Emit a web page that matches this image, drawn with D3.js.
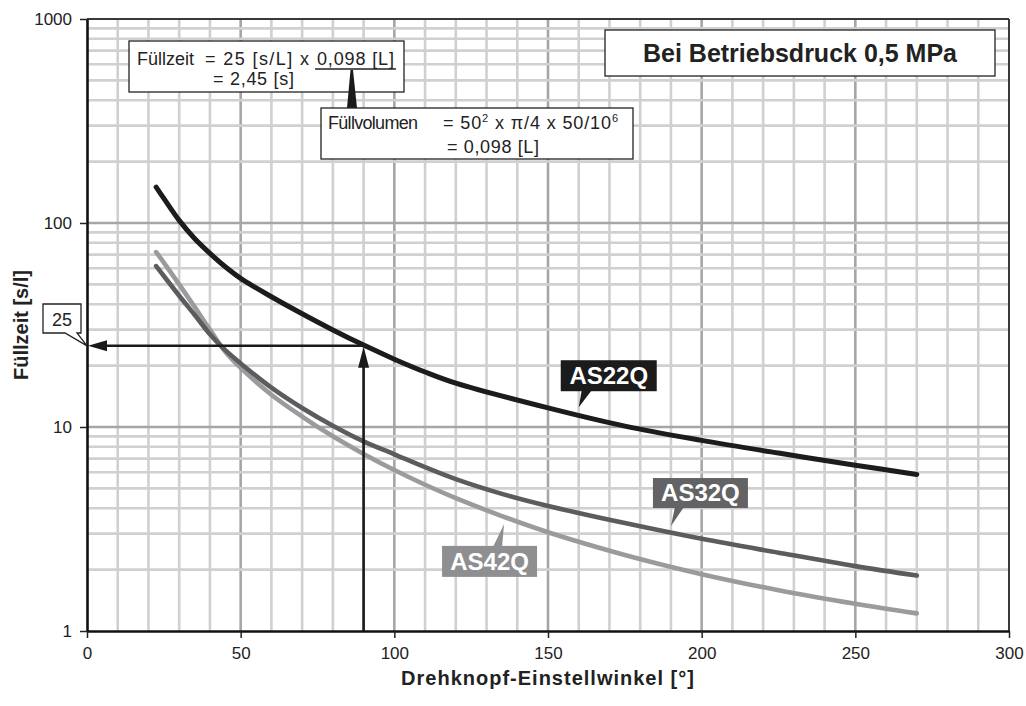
<!DOCTYPE html>
<html>
<head>
<meta charset="utf-8">
<script src="https://cdn.jsdelivr.net/npm/d3@7"></script>
<style>
  html, body { margin: 0; padding: 0; background: #fff; }
  svg { display: block; font-family: "Liberation Sans", Arial, Helvetica, sans-serif; }
</style>
</head>
<body>
<svg id="chart" width="1026" height="706"></svg>
<script>
// ---------- data ----------
const seriesNames = ["AS22Q", "AS32Q", "AS42Q"];
const as22qX = [22.5, 25, 30, 35, 40, 45, 50, 60, 70, 80, 90, 100, 110, 120, 150, 175, 200, 225, 250, 270];
const as22qY = [150, 132, 103, 84, 71, 61, 53.5, 43.5, 35.9, 29.9, 25.2, 21.5, 18.6, 16.4, 12.4, 10.1, 8.6, 7.45, 6.5, 5.85];
const as32qX = [22.5, 25, 30, 35, 40, 45, 50, 60, 70, 80, 90, 100, 110, 120, 135, 150, 175, 200, 225, 250, 270];
const as32qY = [61.5, 55, 44, 35.5, 28.5, 23.8, 20.5, 15.6, 12.4, 10.15, 8.5, 7.35, 6.35, 5.55, 4.7, 4.1, 3.38, 2.83, 2.42, 2.08, 1.87];
const as42qX = [22.5, 25, 30, 35, 40, 45, 50, 60, 70, 80, 90, 100, 110, 120, 135, 150, 175, 200, 225, 250, 270];
const as42qY = [72, 64, 50, 38.8, 30, 23.4, 19.5, 14.4, 11.25, 9.0, 7.38, 6.15, 5.21, 4.48, 3.66, 3.05, 2.36, 1.9, 1.585, 1.36, 1.22];
const xTicks = [0, 50, 100, 150, 200, 250, 300];
const yTicks = [1, 10, 100, 1000];
const labelAnchors = [[160, 12.5], [190, 3.27], [135.7, 3.35]]; // where each label pointer ends
const exampleAngle = 90, exampleTime = 25;

// ---------- setup ----------
const svg = d3.select("#chart");
const x = d3.scaleLinear().domain([0, 300]).range([87, 1009]);
const y = d3.scaleLog().domain([1, 1000]).range([631, 19]);
const X0 = x(0), X1 = x(300), Y0 = y(1), Y1 = y(1000);

svg.append("rect").attr("width", 1026).attr("height", 706).attr("fill", "#fff");

// ---------- grid ----------
const grid = svg.append("g");
const vLines = d3.range(10, 300, 10);
grid.selectAll("line.v").data(vLines).join("line")
  .attr("x1", d => x(d)).attr("x2", d => x(d))
  .attr("y1", Y1).attr("y2", Y0)
  .attr("stroke", d => d % 50 === 0 ? "#a6a6aa" : "#d0d0d2")
  .attr("stroke-width", 2.6);
const hLines = [];
[1, 10, 100].forEach(dec => { for (let k = 2; k <= 9; k++) hLines.push({v: dec * k, major: false}); });
hLines.push({v: 10, major: true}, {v: 100, major: true});
grid.selectAll("line.h").data(hLines).join("line")
  .attr("x1", X0).attr("x2", X1)
  .attr("y1", d => y(d.v)).attr("y2", d => y(d.v))
  .attr("stroke", d => d.major ? "#a6a6aa" : "#d0d0d2")
  .attr("stroke-width", 2.6);

// ---------- curves ----------
const series = [
  {name: seriesNames[0], xs: as22qX, ys: as22qY, color: "#1c1c1c", w: 5},
  {name: seriesNames[1], xs: as32qX, ys: as32qY, color: "#5c5c5e", w: 4.6},
  {name: seriesNames[2], xs: as42qX, ys: as42qY, color: "#9b9b9d", w: 4.6}
];
const line = d3.line().x(d => x(d[0])).y(d => y(d[1])).curve(d3.curveCatmullRom.alpha(0.5));
[2, 1, 0].forEach(i => {
  const s = series[i];
  svg.append("path")
    .attr("d", line(s.xs.map((v, j) => [v, s.ys[j]])))
    .attr("fill", "none").attr("stroke", s.color).attr("stroke-width", s.w)
    .attr("stroke-linecap", "round").attr("stroke-linejoin", "round");
});

// ---------- example arrows ----------
const ax = x(exampleAngle), ay = y(exampleTime);
const arr = svg.append("g").attr("fill", "#1a1a1a").attr("stroke", "#1a1a1a");
arr.append("line").attr("x1", ax).attr("x2", X0 + 16).attr("y1", ay).attr("y2", ay).attr("stroke-width", 2.6);
arr.append("path").attr("stroke", "none")
  .attr("d", `M${X0 + 1},${ay} L${X0 + 20},${ay - 5.5} L${X0 + 20},${ay + 5.5} Z`);
arr.append("line").attr("x1", ax).attr("x2", ax).attr("y1", Y0).attr("y2", ay + 16).attr("stroke-width", 2.6);
arr.append("path").attr("stroke", "none")
  .attr("d", `M${ax},${ay + 1} L${ax - 5.5},${ay + 22} L${ax + 5.5},${ay + 22} Z`);

// ---------- axes / frame ----------
svg.append("line").attr("x1", X0).attr("x2", X1).attr("y1", Y1).attr("y2", Y1)
  .attr("stroke", "#3a3a3a").attr("stroke-width", 2);
svg.append("line").attr("x1", X1).attr("x2", X1).attr("y1", Y1).attr("y2", Y0)
  .attr("stroke", "#3a3a3a").attr("stroke-width", 2);

const xAxis = svg.append("g").attr("transform", `translate(0,${Y0})`)
  .call(d3.axisBottom(x).tickValues(xTicks).tickSize(7).tickSizeOuter(0).tickPadding(9));
const yAxis = svg.append("g").attr("transform", `translate(${X0},0)`)
  .call(d3.axisLeft(y).tickValues(yTicks).tickFormat(d3.format("d")).tickSize(7).tickSizeOuter(0).tickPadding(8));
[xAxis, yAxis].forEach(g => {
  g.select(".domain").attr("stroke", "#111").attr("stroke-width", 2.6);
  g.selectAll(".tick line").attr("stroke", "#222").attr("stroke-width", 1.5);
  g.selectAll(".tick text").attr("fill", "#222").attr("font-size", 17)
    .attr("font-family", "'Liberation Sans', Arial, sans-serif");
});

// axis titles
svg.append("text").attr("x", (X0 + X1) / 2).attr("y", 685).attr("text-anchor", "middle")
  .attr("font-size", 20).attr("font-weight", "bold").attr("fill", "#222").attr("letter-spacing", 1)
  .text("Drehknopf-Einstellwinkel [°]");
svg.append("text").attr("transform", `translate(28,${(Y0 + Y1) / 2}) rotate(-90)`)
  .attr("text-anchor", "middle").attr("font-size", 20).attr("font-weight", "bold").attr("fill", "#222")
  .text("Füllzeit [s/l]");

// ---------- annotation boxes ----------
const ann = svg.append("g").attr("font-size", 18).attr("fill", "#222");
// box 1
ann.append("rect").attr("x", 129).attr("y", 41).attr("width", 275).attr("height", 51)
  .attr("fill", "#fff").attr("stroke", "#222").attr("stroke-width", 1.3);
ann.append("text").attr("x", 137).attr("y", 65).attr("textLength", 57).text("Füllzeit");
ann.append("text").attr("x", 205).attr("y", 65).attr("textLength", 104).text("= 25 [s/L] x");
ann.append("text").attr("x", 317).attr("y", 65).attr("textLength", 77).text("0,098 [L]");
ann.append("line").attr("x1", 315).attr("x2", 396).attr("y1", 69).attr("y2", 69)
  .attr("stroke", "#222").attr("stroke-width", 1.6);
ann.append("text").attr("x", 213).attr("y", 85).attr("textLength", 81).text("= 2,45 [s]");
// connector wedge
ann.append("path").attr("d", "M350.5,70 L353,70 L357,108 L347,108 Z").attr("fill", "#1a1a1a");
// box 2
ann.append("rect").attr("x", 321).attr("y", 108).attr("width", 312).attr("height", 51)
  .attr("fill", "#fff").attr("stroke", "#222").attr("stroke-width", 1.3);
ann.append("text").attr("x", 328).attr("y", 129).attr("textLength", 90).text("Füllvolumen");
const t2 = ann.append("text").attr("x", 443).attr("y", 129).attr("textLength", 175);
t2.append("tspan").text("= 50");
t2.append("tspan").attr("font-size", 11).attr("dy", -7).text("2");
t2.append("tspan").attr("dy", 7).text(" x π/4 x 50/10");
t2.append("tspan").attr("font-size", 11).attr("dy", -7).text("6");
ann.append("text").attr("x", 447).attr("y", 153).attr("textLength", 92).text("= 0,098 [L]");
// box 3
ann.append("rect").attr("x", 605).attr("y", 30).attr("width", 390).attr("height", 46)
  .attr("fill", "#fff").attr("stroke", "#222").attr("stroke-width", 1.3);
ann.append("text").attr("x", 800).attr("y", 62).attr("text-anchor", "middle")
  .attr("font-size", 25).attr("font-weight", "bold").text("Bei Betriebsdruck 0,5 MPa");

// "25" callout
ann.append("path").attr("d", `M43,304 H81 V333 H77 L${X0},${ay} L65,333 H43 Z`)
  .attr("fill", "#fff").attr("stroke", "#222").attr("stroke-width", 1.3);
ann.append("text").attr("x", 62).attr("y", 326).attr("text-anchor", "middle").text("25");

// ---------- series labels ----------
const labelBoxes = [
  {dx: -18, dy: -47, w: 96, h: 31, base: [3, 13], up: false},
  {dx: -18, dy: -48, w: 95, h: 30, base: [4, 13], up: false},
  {dx: -62, dy: 22, w: 95, h: 31, base: [-11, -2], up: true}
];
const labelColors = ["#1b1b1b", "#636365", "#8f8f92"];
labelBoxes.forEach((b, i) => {
  const tx = x(labelAnchors[i][0]), ty = y(labelAnchors[i][1]);
  const bx = tx + b.dx, by = ty + b.dy;
  const g = svg.append("g");
  const edge = b.up ? by : by + b.h;
  g.append("path").attr("fill", labelColors[i])
    .attr("d", `M${tx + b.base[0]},${edge + (b.up ? 1 : -1)} L${tx + b.base[1]},${edge + (b.up ? 1 : -1)} L${tx},${ty} Z`);
  g.append("rect").attr("x", bx).attr("y", by).attr("width", b.w).attr("height", b.h).attr("fill", labelColors[i]);
  g.append("text").attr("x", bx + b.w / 2).attr("y", by + b.h - 7).attr("text-anchor", "middle")
    .attr("fill", "#fff").attr("font-size", 24).attr("font-weight", "bold").text(seriesNames[i]);
});
</script>
</body>
</html>
